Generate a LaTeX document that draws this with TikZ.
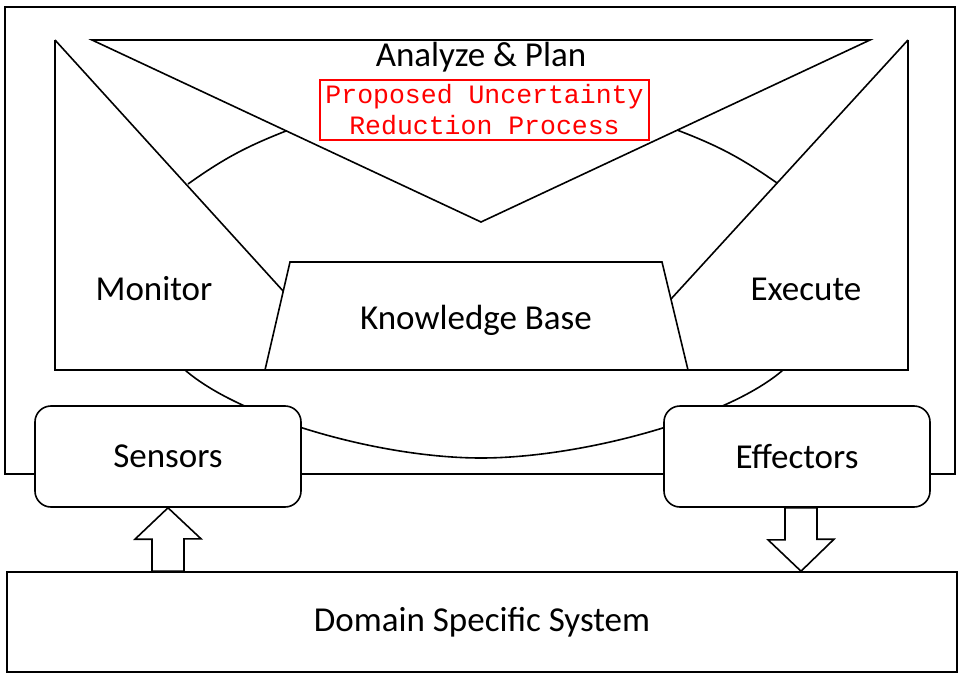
\documentclass[tikz,border=0pt]{standalone}
\usepackage{fontspec}
\setmainfont{Carlito}
\newfontfamily\monofont{Liberation Mono}
\usetikzlibrary{positioning, calc}
\tikzstyle{line}     = [draw=black, line width=1.6pt, line join=miter]
\tikzstyle{txt}      = [inner sep=0pt, font=\fontsize{35}{40}\selectfont]
\tikzstyle{roundbox} = [line, fill=white, rounded corners=16pt, minimum width=266pt, minimum height=101pt, txt]

\begin{document}
\begin{tikzpicture}[x=1pt, y=-1pt]
      \useasboundingbox (0,0) rectangle (963,679);
      % Outer frame
      \draw[line] (5,7) rectangle (955,474);
      % Loop area
      \draw[line] (55,40) -- (55,370) -- (908,370) -- (908,40);
      \draw[line] (55,40) -- (284,292);
      \draw[line] (908,40) -- (671,299);
      \draw[line] (92,40) -- (870,40) -- (481,222) -- cycle;
      \draw[line] (188,184) to[bend left=7] (286,131);
      \draw[line] (677,130) to[bend left=7] (777,183);
      % Knowledge base
      \draw[line, fill=white] (290,262) -- (662,262) -- (688,370) -- (265,370) -- cycle;
      % Lower arc
      \draw[line] (185,370) .. controls (240,418) and (380,458) .. (481,458)
                  .. controls (582,458) and (728,418) .. (783,370);
      % Labels
      \node[txt] (analyze) at (481,57) {Analyze \& Plan};
      \node[draw=red, line width=1.6pt, minimum width=329pt, minimum height=60pt, inner sep=0pt,
            text=red, align=center, font=\monofont\fontsize{26.5}{31}\selectfont]
        (proposed) at (484.5,110) {Proposed Uncertainty\\Reduction Process};
      \node[txt] (monitor) at (154,289) {Monitor};
      \node[txt] (execute) at (806,289) {Execute};
      \node[txt] (knowledge) at (476,320) {Knowledge Base};
      % Sensors and effectors
      \node[roundbox] (sensors) at (168,456.5) {Sensors};
      \node[roundbox] (effectors) at (797,456.5) {Effectors};
      % Managed system
      \node[line, minimum width=950pt, minimum height=100pt, txt] (domain) at (482,622) {Domain Specific System};
      % Block arrows
      \draw[line, fill=white] (sensors.south) -- ++(33,31) -- ++(-17,0)
        |- ($(domain.north -| sensors.south)+(-16,0)$) -- ++(0,-32) -- ++(-17,0) -- cycle;
      \draw[line, fill=white] ($(effectors.south)+(-12,0)$) -- ++(0,32) -- ++(-17,0)
        -- ($(effectors.south |- domain.north)+(4,0)$) -- ++(33,-32) -- ++(-17,0) |- cycle;
    \end{tikzpicture}
\end{document}
